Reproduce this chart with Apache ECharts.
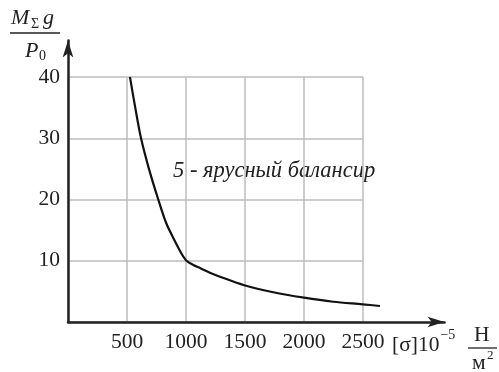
<!DOCTYPE html>
<html>
<head>
<meta charset="utf-8">
<script src="https://cdn.jsdelivr.net/npm/echarts@6/dist/echarts.min.js"></script>
<style>
html,body{margin:0;padding:0;background:#fff;}
#c{width:499px;height:372px;}
</style>
</head>
<body>
<div id="c"></div>
<script>
// Data
const sigma = [525, 570, 619, 689, 765, 831, 901, 964, 1004, 1062, 1119, 1203, 1288, 1494, 1740, 2000, 2248, 2497, 2644];
const ratio = [40, 35, 30, 24.8, 20, 16.2, 13.4, 11.1, 10.0, 9.3, 8.8, 8.05, 7.4, 6.0, 4.85, 3.97, 3.31, 2.89, 2.61];
const xTicks = [500, 1000, 1500, 2000, 2500];
const yTicks = [10, 20, 30, 40];
const curveLabel = '5 - ярусный балансир';

const SERIF = '"Liberation Serif", "Times New Roman", serif';
const TXT = '#222';

// layout (pixels)
const G = {left: 68, top: 77, width: 295, height: 245};
const ARROW_X_END = 444.5, ARROW_Y_END = 40.5;
const xMax = xTicks[xTicks.length - 1], yMax = yTicks[yTicks.length - 1];
const g2w = ARROW_X_END - G.left, g2h = G.top + G.height - ARROW_Y_END;
const x2Max = g2w * xMax / G.width, y2Max = g2h * yMax / G.height;

// measure text helper
const mctx = document.createElement('canvas').getContext('2d');
function tw(text, font) { mctx.font = font; return mctx.measureText(text).width; }

const F_MAIN = '21.5px ' + SERIF, F_SUP = '14px ' + SERIF;
const nameX = 392;
const w1 = tw('[σ]10', F_MAIN);

const chart = echarts.init(document.getElementById('c'), null, {renderer: 'canvas'});
chart.setOption({
  backgroundColor: '#fff',
  animation: false,
  grid: [
    {left: G.left, top: G.top, width: G.width, height: G.height},
    {left: G.left, top: ARROW_Y_END, width: g2w, height: g2h}
  ],
  xAxis: [
    {
      type: 'value', gridIndex: 0, min: 0, max: xMax, interval: 500,
      axisLine: {show: false}, axisTick: {show: false},
      axisLabel: {
        margin: 9, color: TXT, fontFamily: SERIF, fontSize: 21.5,
        formatter: v => (xTicks.indexOf(v) >= 0 ? String(v) : '')
      },
      splitLine: {show: true, lineStyle: {color: '#bdbdbd', width: 1.5}}
    },
    {
      type: 'value', gridIndex: 1, min: 0, max: x2Max,
      axisLine: {show: true, symbol: ['none', 'arrow'], symbolSize: [8, 17],
        lineStyle: {color: '#222', width: 2.5}},
      axisTick: {show: false}, axisLabel: {show: false}, splitLine: {show: false}
    }
  ],
  yAxis: [
    {
      type: 'value', gridIndex: 0, min: 0, max: yMax, interval: 10,
      axisLine: {show: false}, axisTick: {show: false},
      axisLabel: {
        margin: 8, color: TXT, fontFamily: SERIF, fontSize: 21.5,
        formatter: v => (yTicks.indexOf(v) >= 0 ? String(v) : '')
      },
      splitLine: {show: true, lineStyle: {color: '#bdbdbd', width: 1.5}}
    },
    {
      type: 'value', gridIndex: 1, min: 0, max: y2Max,
      axisLine: {show: true, symbol: ['none', 'arrow'], symbolSize: [8, 17],
        lineStyle: {color: '#222', width: 2.5}},
      axisTick: {show: false}, axisLabel: {show: false}, splitLine: {show: false}
    }
  ],
  series: [
    {
      type: 'line', xAxisIndex: 1, yAxisIndex: 1,
      data: sigma.map((s, i) => [s, ratio[i]]),
      showSymbol: false, smooth: 0.3,
      lineStyle: {color: '#111', width: 2.2}
    }
  ],
  graphic: [
    // y axis name: M_Σ g / P_0
    {type: 'text', left: 11, top: 7, style: {text: 'M', font: 'italic 22px ' + SERIF, fill: TXT}},
    {type: 'text', left: 31, top: 17, style: {text: 'Σ', font: '14px ' + SERIF, fill: TXT}},
    {type: 'text', left: 43, top: 7, style: {text: 'g', font: 'italic 22px ' + SERIF, fill: TXT}},
    {type: 'line', shape: {x1: 10, y1: 33, x2: 60, y2: 33}, style: {stroke: TXT, lineWidth: 1.5}},
    {type: 'text', left: 25, top: 40, style: {text: 'P', font: 'italic 22px ' + SERIF, fill: TXT}},
    {type: 'text', left: 39, top: 49, style: {text: '0', font: '14px ' + SERIF, fill: TXT}},
    // x axis name: [σ]10^-5 Н/м²
    {type: 'text', left: nameX, top: 334, style: {text: '[σ]10', font: F_MAIN, fill: TXT}},
    {type: 'text', left: nameX + w1 + 1, top: 328, style: {text: '−5', font: F_SUP, fill: TXT}},
    {type: 'text', left: 474, top: 324, style: {text: 'Н', font: F_MAIN, fill: TXT}},
    {type: 'line', shape: {x1: 468, y1: 348, x2: 497, y2: 348}, style: {stroke: TXT, lineWidth: 1.3}},
    {type: 'text', left: 472, top: 352, style: {text: 'м', font: F_MAIN, fill: TXT}},
    {type: 'text', left: 487, top: 349, style: {text: '2', font: '13px ' + SERIF, fill: TXT}},
    // curve annotation
    {type: 'text', left: 173, top: 160, style: {text: curveLabel, font: 'italic 22.5px ' + SERIF, fill: TXT}}
  ]
});
</script>
</body>
</html>
